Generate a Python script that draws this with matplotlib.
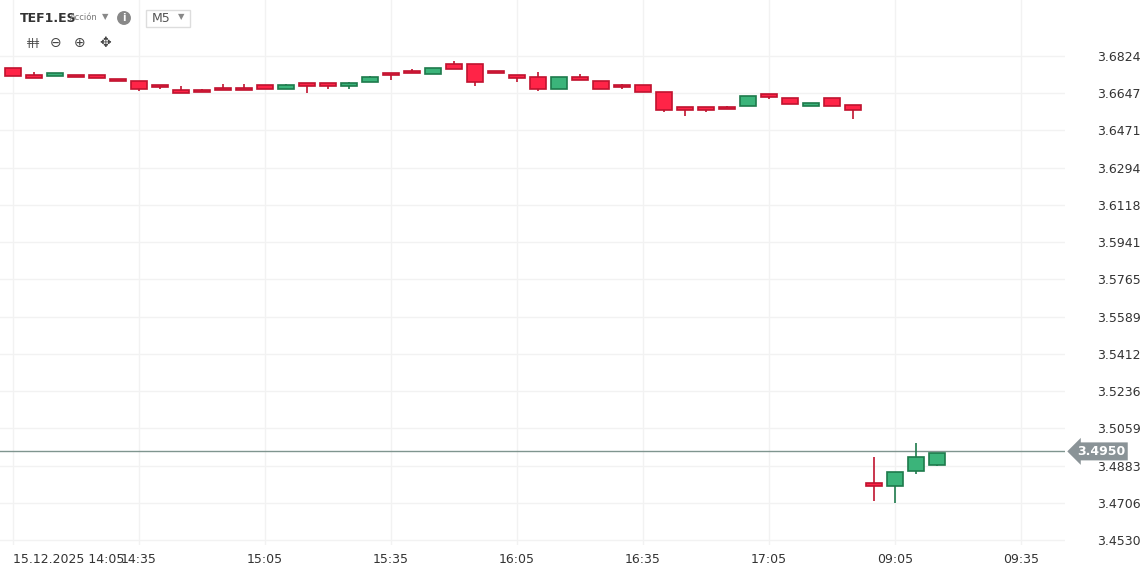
import matplotlib
matplotlib.use("Agg")
import matplotlib.pyplot as plt
from matplotlib.patches import Rectangle

opens  = [3.6766,3.6734,3.6728,3.6734,3.6734,3.6715,3.6706,3.6687,3.6661,3.6661,3.6672,3.6672,3.6687,3.6666,3.6696,3.6696,3.6680,3.6699,3.6743,3.6753,3.6737,
          3.6785,3.6785,3.6751,3.6733,3.6723,3.6666,3.6723,3.6704,3.6685,3.6685,3.6652,3.6581,3.6581,3.6581,3.6586,3.6642,3.6623,3.6586,3.6623,3.6590,
          3.4799,3.4784,3.4856,3.4884]
closes = [3.6728,3.6721,3.6742,3.6723,3.6718,3.6704,3.6666,3.6676,3.6647,3.6652,3.6661,3.6661,3.6666,3.6687,3.6680,3.6680,3.6696,3.6724,3.6733,3.6742,3.6766,
          3.6761,3.6699,3.6742,3.6718,3.6666,3.6723,3.6709,3.6666,3.6676,3.6655,3.6567,3.6567,3.6567,3.6571,3.6633,3.6628,3.6595,3.6600,3.6586,3.6567,
          3.4784,3.4851,3.4922,3.4940]
highs  = [3.6766,3.6748,3.6742,3.6734,3.6734,3.6715,3.6706,3.6687,3.6682,3.6668,3.6693,3.6693,3.6687,3.6693,3.6696,3.6696,3.6702,3.6731,3.6743,3.6762,3.6766,
          3.6800,3.6785,3.6751,3.6733,3.6748,3.6723,3.6739,3.6704,3.6691,3.6685,3.6652,3.6581,3.6581,3.6587,3.6633,3.6642,3.6623,3.6600,3.6623,3.6590,
          3.4925,3.4854,3.4988,3.4940]
lows   = [3.6728,3.6721,3.6728,3.6723,3.6718,3.6704,3.6660,3.6669,3.6647,3.6652,3.6661,3.6661,3.6666,3.6666,3.6650,3.6669,3.6669,3.6699,3.6712,3.6742,3.6737,
          3.6761,3.6683,3.6742,3.6702,3.6660,3.6666,3.6709,3.6666,3.6669,3.6655,3.6560,3.6541,3.6560,3.6571,3.6586,3.6622,3.6595,3.6586,3.6586,3.6527,
          3.4716,3.4707,3.4841,3.4880]
last_price = 3.4950
tick_idx = [0,6,12,18,24,30,36,42,48]
tick_labels = ["15.12.2025 14:05","14:35","15:05","15:35","16:05","16:35","17:05","09:05","09:35"]
yticks = [3.4530,3.4706,3.4883,3.5059,3.5236,3.5412,3.5589,3.5765,3.5941,3.6118,3.6294,3.6471,3.6647,3.6824]

W,H = 1142,567
fig = plt.figure(figsize=(W/100,H/100), dpi=100)
ax = fig.add_axes([0, 1-545/H, 1065/W, 545/H])
step = (3.6824-3.4530)/484
ax.set_ylim(3.4530-5*step, 3.6824+56*step)
ax.set_xlim(-13/21, (1065-13)/21)

for i,(o,c,h,l) in enumerate(zip(opens,closes,highs,lows)):
    up = c >= o
    fc = '#3bb47a' if up else '#ff2447'
    ec = '#1e7a4c' if up else '#c0132f'
    ax.vlines(i, l, h, color=ec, lw=1.2, zorder=2)
    b, t = min(o,c), max(o,c)
    ax.add_patch(Rectangle((i-0.38, b), 0.76, max(t-b, 0.0004), facecolor=fc, edgecolor=ec, lw=1.2, zorder=3))

ax.axhline(last_price, color='#7f958f', lw=1, zorder=1)
for s in ax.spines.values(): s.set_visible(False)
ax.grid(True, color='#f2f2f2', lw=1, zorder=0)
ax.set_axisbelow(True)
ax.set_yticks(yticks)
ax.set_yticklabels([f"{v:.4f}" for v in yticks])
ax.yaxis.tick_right()
ax.tick_params(axis='y', length=0, pad=23, labelsize=9, labelcolor='#333333')
ax.set_xticks(tick_idx)
ax.set_xticklabels(tick_labels)
ax.tick_params(axis='x', length=0, pad=6, labelsize=9, labelcolor='#333333')
ax.get_xticklabels()[0].set_ha('left')

ax.text(1+12/1065, last_price, "3.4950", transform=ax.get_yaxis_transform(), ha='left', va='center',
        color='white', fontsize=9, fontweight='bold',
        bbox=dict(boxstyle='larrow,pad=0.2', fc='#8a9397', ec='none'))

fig.text(20/W, 1-18/H, "TEF1.ES", fontsize=9, fontweight='bold', color='#333333', va='center')
fig.text(70/W, 1-18/H, "Acción", fontsize=6, color='#777777', va='center')
fig.text(102/W, 1-17/H, "▼", fontsize=6, color='#888888', va='center')
fig.text(124/W, 1-18/H, "i", fontsize=7, fontweight='bold', color='white', va='center', ha='center',
         bbox=dict(boxstyle='circle,pad=0.2', fc='#888888', ec='none'))
fig.text(152/W, 1-18/H, "M5", fontsize=9, color='#555555', va='center')
fig.text(178/W, 1-17/H, "▼", fontsize=6, color='#888888', va='center')
fig.patches.append(Rectangle((146/W, 1-27/H), 44/W, 17/H, transform=fig.transFigure, fc='none', ec='#dddddd', lw=1))
for x, s in [(27,"ǂǂǂ"),(50,"⊖"),(74,"⊕"),(99,"✥")]:
    fig.text(x/W, 1-43/H, s, fontsize=10 if s != "ǂǂǂ" else 7, color='#444444', va='center')

fig.savefig("out.png", dpi=100, facecolor='white')
